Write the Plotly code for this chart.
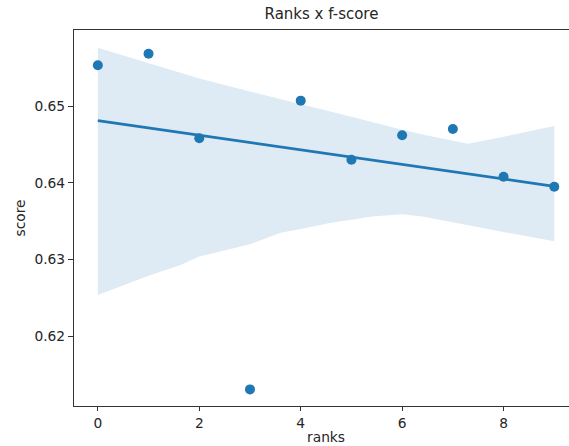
import numpy as np
import plotly.graph_objects as go

# Data
ranks = [0, 1, 2, 3, 4, 5, 6, 7, 8, 9]
scores = [0.6553, 0.6568, 0.6458, 0.6131, 0.6507, 0.6430, 0.6462, 0.6470, 0.6408, 0.6395]

# Confidence band edges (bootstrapped band)
band_up_x = [0, 1, 2, 3, 4, 5, 6, 6.4, 7.3, 8, 9]
band_up_y = [0.6576, 0.6556, 0.6536, 0.6519, 0.6503, 0.6486, 0.6469, 0.6463, 0.6451, 0.6460, 0.6474]
band_lo_x = [0, 1, 1.63, 2, 3, 3.6, 4, 4.6, 5, 5.4, 6, 6.4, 7, 8, 9]
band_lo_y = [0.6254, 0.6279, 0.6293, 0.6304, 0.6320, 0.6335, 0.6340, 0.6348, 0.6352, 0.6356,
             0.6359, 0.6356, 0.6349, 0.6336, 0.6324]

x_ticks = [0, 2, 4, 6, 8]
y_ticks = [0.62, 0.63, 0.64, 0.65]

blue = "#1f77b4"

# regression line fitted from the data
slope, intercept = np.polyfit(ranks, scores, 1)
line_x = [min(ranks), max(ranks)]
line_y = [intercept + slope * v for v in line_x]

fig = go.Figure()
fig.add_trace(go.Scatter(
    x=band_up_x + band_lo_x[::-1],
    y=band_up_y + band_lo_y[::-1],
    fill="toself", fillcolor="rgba(31,119,180,0.15)",
    line=dict(width=0), mode="lines", hoverinfo="skip", showlegend=False))
fig.add_trace(go.Scatter(x=ranks, y=scores, mode="markers",
                         marker=dict(color=blue, size=10), showlegend=False))
fig.add_trace(go.Scatter(x=line_x, y=line_y, mode="lines",
                         line=dict(color=blue, width=2.8), showlegend=False))

font = "DejaVu Sans"
fs = 13.8
fig.update_layout(
    width=569, height=446,
    margin=dict(l=74, r=0, t=30, b=40),
    paper_bgcolor="white", plot_bgcolor="white",
    font=dict(family=font, size=fs, color="#262626"),
    title=dict(text="Ranks x f-score", x=0.5, xref="paper",
               y=1 - 14 / 446, yanchor="middle", font=dict(size=15, color="#262626")),
    xaxis=dict(range=[-0.47, 9.29], tickvals=x_ticks, ticktext=[str(v) for v in x_ticks],
               showgrid=False, zeroline=False, showline=True, linecolor="#333333", linewidth=1.2,
               mirror=True, ticks="outside", ticklen=4, tickcolor="#333333",
               tickfont=dict(size=fs)),
    yaxis=dict(range=[0.61094, 0.65990], tickvals=y_ticks, ticktext=[f"{v:.2f}" for v in y_ticks],
               showgrid=False, zeroline=False, showline=True, linecolor="#333333", linewidth=1.2,
               ticks="outside", ticklen=5, tickcolor="#333333",
               tickfont=dict(size=fs),
               title=dict(text="score", standoff=5, font=dict(size=fs))),
)
# x-axis title placed as text annotation under the axis, centred on the data area in the reference
fig.add_annotation(text="ranks", xref="x", x=4.5, yref="paper", y=-(437.5 - 406) / 376,
                   yanchor="middle", showarrow=False, font=dict(size=fs, color="#262626"))
fig.update_xaxes(automargin=False)
fig.update_yaxes(automargin=False)

fig.write_html("out.html")
